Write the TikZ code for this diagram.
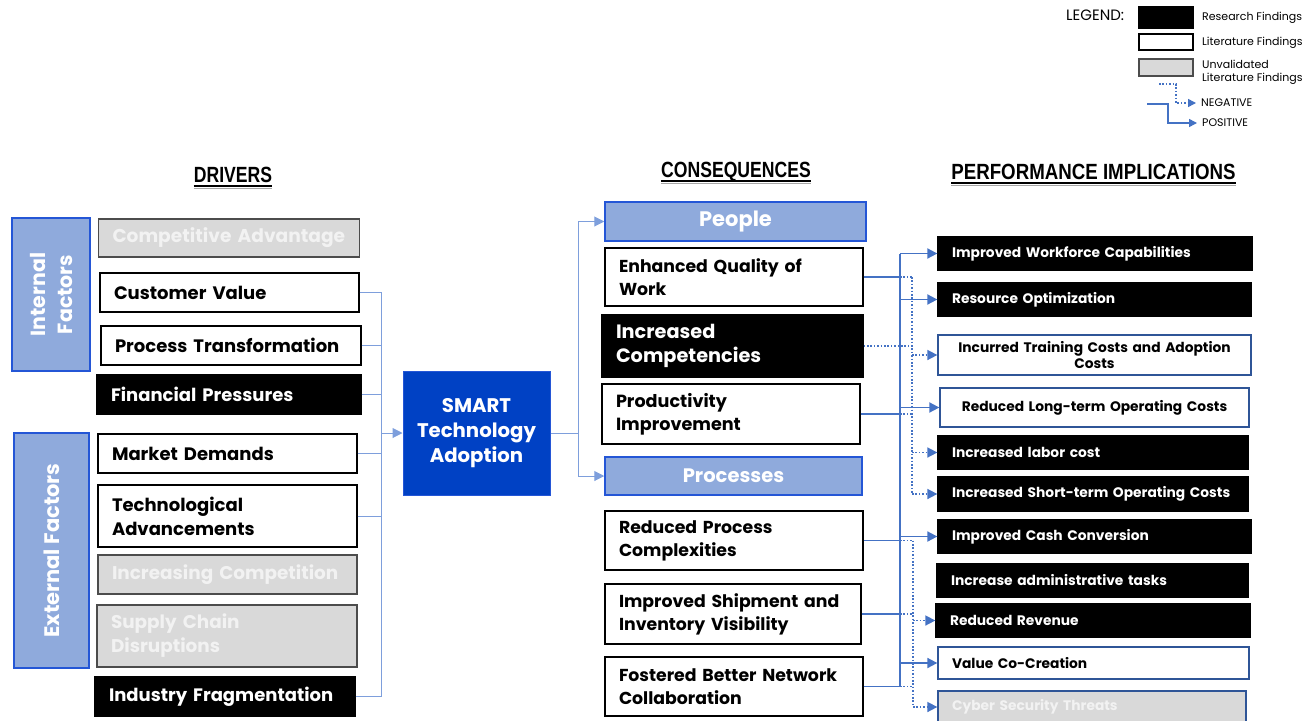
\documentclass[tikz,border=0pt]{standalone}
\usepackage{fontspec}
\setmainfont{Poppins}
\newfontfamily\titlefont{Liberation Sans}
\usetikzlibrary{arrows.meta}
\definecolor{lblue}{HTML}{8FAADC}
\definecolor{bborder}{HTML}{2456D6}
\definecolor{smartblue}{HTML}{0041C4}
\definecolor{conn}{HTML}{4472C4}
\definecolor{lconncol}{HTML}{7E9FDC}
\definecolor{gfill}{HTML}{D9D9D9}
\definecolor{gtext}{HTML}{F2F2F2}
\definecolor{iborder}{HTML}{2F5597}
\newcommand\fdrv{\fontsize{18}{24}\selectfont}
\newcommand\fcon{\fontsize{17.3}{23}\selectfont}
\newcommand\fimp{\fontsize{13.8}{17}\selectfont}
\newcommand\fbig{\fontsize{19.7}{25}\selectfont}
\newcommand\ttltext[2][0.8]{\scalebox{#1}[1]{#2}}
\begin{document}
\begin{tikzpicture}[x=1pt,y=-1pt,
  base/.style={rectangle, inner xsep=14pt, inner ysep=0pt, align=left, font=\bfseries},
  wbox/.style={base, draw=black, line width=1.3pt, fill=white, text=black},
  kbox/.style={base, draw=black, line width=1.3pt, fill=black, text=white},
  gbox/.style={base, draw=black!70, line width=1.3pt, fill=gfill, text=gtext},
  ibox/.style={base, draw=iborder, line width=1.3pt, fill=white, text=black},
  igbox/.style={base, draw=iborder, line width=1.3pt, fill=gfill, text=gtext},
  catbox/.style={draw=bborder, line width=1.5pt, fill=lblue, text=white, font=\bfseries\fbig, align=center, inner sep=0pt},
  drv/.style={text width=232pt, minimum height=39pt, font=\bfseries\fdrv},
  con/.style={text width=230pt, minimum height=59pt, font=\bfseries\fcon},
  imp/.style={text width=285pt, minimum height=33pt, font=\bfseries\fimp},
  lconn/.style={draw=lconncol, line width=1pt},
  posline/.style={draw=conn, line width=1.8pt},
  negline/.style={draw=conn, line width=1.6pt, dash pattern=on 1.6pt off 1.8pt},
  arr/.style={-{Triangle[length=10pt,width=10pt]}},
  sarr/.style={-{Triangle[length=8pt,width=8pt]}},
  ttl/.style={font=\titlefont\bfseries\fontsize{22}{24}\selectfont, inner sep=0pt, anchor=base},
  leg/.style={font=\fontsize{11}{12}\selectfont, anchor=west, inner xsep=5pt, inner ysep=0pt, align=left}
]
\useasboundingbox (0,0) rectangle (1316,720);

% titles
\node[ttl] (tdrv) at (233,182) {\ttltext{DRIVERS}};
\node[ttl] (tcon) at (736,177) {\ttltext{CONSEQUENCES}};
\node[ttl] (timp) at (1093.5,179) {\ttltext[0.85]{PERFORMANCE IMPLICATIONS}};
\foreach \t in {tdrv,tcon,timp}{
  \draw[line width=2pt] ([yshift=-4pt]\t.base west) -- ([yshift=-4pt]\t.base east);
  \draw[black!35, line width=1pt] ([yshift=-6pt]\t.base west) -- ([yshift=-6pt]\t.base east);
}

% category boxes
\node[catbox, rotate=90, minimum width=153pt, minimum height=78pt, font=\bfseries\fontsize{20.5}{27}\selectfont] (intf) at (51,294.5) {Internal\\Factors};
\node[catbox, rotate=90, minimum width=235pt, minimum height=75pt, font=\bfseries\fontsize{21}{25}\selectfont] (extf) at (51.5,550.5) {External Factors};

% drivers
\node[gbox, drv, text width=233pt, minimum height=38pt, font=\bfseries\fontsize{18.6}{24}\selectfont] (ca) at (229,238) {Competitive Advantage};
\node[wbox, drv, text width=231pt] (cv) at (229.5,292.5) {Customer Value};
\node[wbox, drv] (pt) at (231,345.5) {Process Transformation};
\node[kbox, drv, text width=236pt] (fp) at (229,394.5) {Financial Pressures};
\node[wbox, drv, text width=231pt] (md) at (227.5,453.5) {Market Demands};
\node[wbox, drv, text width=231pt, minimum height=62pt] (ta) at (227.5,516) {Technological\\Advancements};
\node[gbox, drv, text width=231pt, font=\bfseries\fontsize{18.4}{24}\selectfont] (ic) at (227.5,574.5) {Increasing Competition};
\node[gbox, drv, minimum height=62pt, font=\bfseries\fontsize{18.4}{24}\selectfont] (sc) at (227,636) {Supply Chain\\Disruptions};
\node[kbox, drv] (if) at (225,696.5) {Industry Fragmentation};

% SMART
\node[draw=bborder, line width=1pt, fill=smartblue, text=white, font=\bfseries\fbig, align=center, minimum width=147pt, minimum height=124pt] (smart) at (476.5,433) {SMART\\Technology\\Adoption};

% consequences
\node[catbox, minimum width=261pt, minimum height=39pt, font=\bfseries\fontsize{21}{25}\selectfont] (people) at (735.5,221.5) {People};
\node[catbox, minimum width=257pt, minimum height=38pt, font=\bfseries\fontsize{19.5}{25}\selectfont] (proc) at (733.5,476) {Processes};
\node[wbox, con, minimum height=58pt] (eq) at (734,277) {Enhanced Quality of\\Work};
\node[kbox, con, text width=233pt, minimum height=62pt, font=\bfseries\fontsize{19.3}{24}\selectfont] (icm) at (732.5,346) {Increased\\Competencies};
\node[wbox, con, minimum height=60pt, font=\bfseries\fontsize{17.6}{23}\selectfont] (pi) at (731,414) {Productivity\\Improvement};
\node[wbox, con] (rpc) at (734,540.5) {Reduced Process\\Complexities};
\node[wbox, con, text width=228pt, minimum height=60pt] (isv) at (733,614) {Improved Shipment and\\Inventory Visibility};
\node[wbox, con] (fbn) at (734,686.5) {Fostered Better Network\\Collaboration};

% implications
\node[kbox, imp, text width=286pt] (i1) at (1095,253.5) {Improved Workforce Capabilities};
\node[kbox, imp] (i2) at (1094.5,299.5) {Resource Optimization};
\node[ibox, imp, align=center, minimum height=40pt, font=\bfseries\fontsize{13.8}{16.5}\selectfont] (i3) at (1094.5,355) {Incurred Training Costs and Adoption\\Costs};
\node[ibox, imp, text width=281pt, align=center, minimum height=39pt] (i4) at (1094.5,407.5) {Reduced Long-term Operating Costs};
\node[kbox, imp, text width=282pt] (i5) at (1093,452.5) {Increased labor cost};
\node[kbox, imp, text width=282pt, minimum height=34pt] (i6) at (1093,494) {Increased Short-term Operating Costs};
\node[kbox, imp] (i7) at (1094.5,536.5) {Improved Cash Conversion};
\node[kbox, imp, text width=283pt] (i8) at (1092.5,580.5) {Increase administrative tasks};
\node[kbox, imp, text width=286pt] (i9) at (1093,620.5) {Reduced Revenue};
\node[ibox, imp, text width=283pt, minimum height=32pt] (i10) at (1093.5,663) {Value Co-Creation};
\node[igbox, imp, text width=280pt, minimum height=32pt] (i11) at (1092,707) {Cyber Security Threats};

% connectors drivers -> SMART
\coordinate (jL) at (381,433);
\foreach \n in {cv,pt,fp,md,ta,if}{\draw[lconn] (\n.east) -| (jL);}
\draw[lconn, arr] (jL) -- (smart.west);

% SMART -> People / Processes
\coordinate (jR) at (578,433);
\draw[lconn] (smart.east) -- (jR);
\draw[lconn, arr] (jR) |- (people.west);
\draw[lconn, arr] (jR) |- (proc.west);

% consequences -> implications
\coordinate (sb) at (900,0);
\coordinate (db) at (912,0);
\coordinate (dc) at (913,0);
\draw[posline] (sb |- i1.west) -- (sb |- fbn.east);
\foreach \n in {eq,pi,rpc,isv,fbn}{\draw[posline] (\n.east) -- (\n.east -| sb);}
\foreach \n in {i1,i2,i4,i7,i10}{\draw[posline, arr] (sb |- \n.west) -- (\n.west);}
\draw[negline] (eq.east -| sb) -- (eq.east -| db);
\draw[negline] (icm.east) -- (icm.east -| db);
\draw[negline] (pi.east -| sb) -- (pi.east -| db);
\draw[negline] (db |- eq.east) -- (db |- i6.west);
\foreach \n in {i3,i5,i6}{\draw[negline, arr] (db |- \n.west) -- (\n.west);}
\foreach \n in {rpc,isv,fbn}{\draw[negline] (\n.east -| sb) -- (\n.east -| dc);}
\draw[negline] (dc |- rpc.east) -- (dc |- i11.west);
\foreach \n in {i9,i11}{\draw[negline, arr] (dc |- \n.west) -- (\n.west);}

% legend
\node[font=\fontsize{15}{17}\selectfont, anchor=west, inner sep=0pt] (legt) at (1066,15) {LEGEND:};
\node[kbox, minimum width=54pt, minimum height=21pt, inner sep=0pt] (lk) at (1166,17.5) {};
\node[wbox, minimum width=54pt, minimum height=16pt, inner sep=0pt] (lw) at (1166,42) {};
\node[gbox, minimum width=54pt, minimum height=17pt, inner sep=0pt] (lg) at (1166,67.5) {};
\node[leg] (lkt) at (1197,18) {Research Findings};
\node[leg] (lwt) at (1197,43) {Literature Findings};
\node[leg, font=\fontsize{11}{13}\selectfont] (lgt) at (1197,72) {Unvalidated\\Literature Findings};
\node[leg] (negt) at (1196,103) {NEGATIVE};
\node[leg] (post) at (1197,123) {POSITIVE};
\coordinate (n1) at (1159,84);
\coordinate (n2) at (1176,0);
\draw[negline, line width=1.4pt, sarr] (n1) -| (n2 |- negt.west) -- (negt.west);
\coordinate (p1) at (1147,104);
\coordinate (p2) at (1168,0);
\draw[posline, line width=1.4pt, sarr] (p1) -| (p2 |- post.west) -- (post.west);
\end{tikzpicture}
\end{document}
